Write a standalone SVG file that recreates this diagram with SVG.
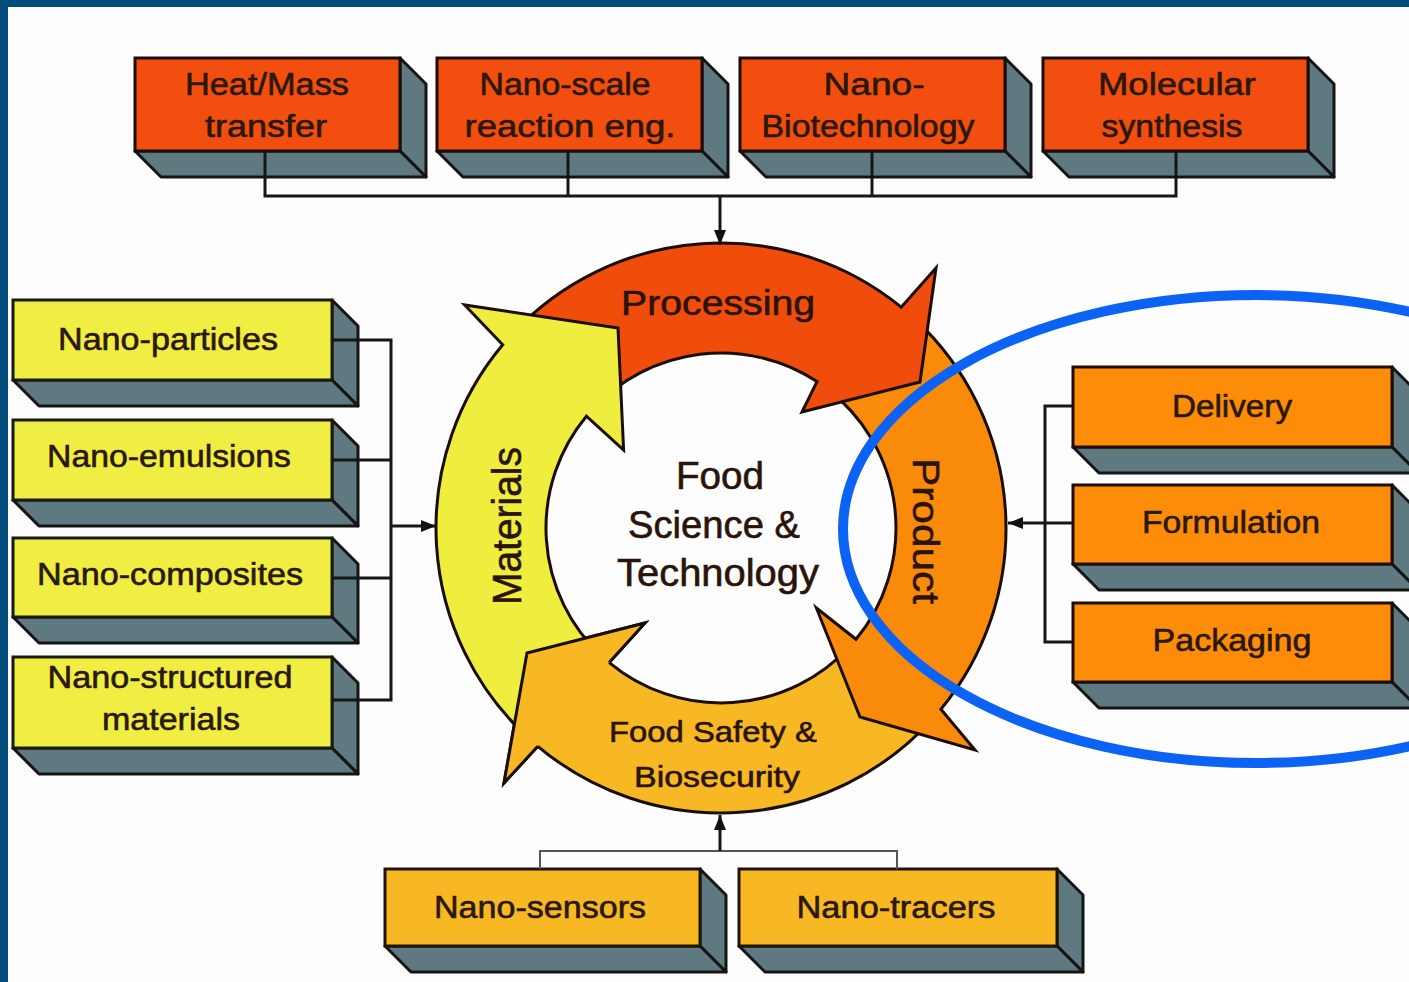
<svg xmlns="http://www.w3.org/2000/svg" width="1409" height="982" viewBox="0 0 1409 982">
<style>
.front-r{fill:#f24e10;stroke:#1a0d08;stroke-width:3}
.front-y{fill:#f0ee42;stroke:#1a1a08;stroke-width:3}
.front-o{fill:#fd8c08;stroke:#1f0d05;stroke-width:3}
.front-g{fill:#f7b824;stroke:#1f1405;stroke-width:3}
.face{fill:#5f7980;stroke:#141414;stroke-width:3;stroke-linejoin:round}
.lbl{font-family:"Liberation Sans",Arial,sans-serif;font-size:31px;fill:#2a180c;stroke:#2a180c;stroke-width:0.6;text-anchor:middle}
.big{font-family:"Liberation Sans",Arial,sans-serif;fill:#2a140a;stroke:#2a140a;stroke-width:0.6;text-anchor:middle}
.conn{stroke:#161616;stroke-width:3;fill:none}
.conn-thin{stroke:#555;stroke-width:2;fill:none}
.ring{stroke:#1a0d06;stroke-width:3;stroke-linejoin:miter}
</style>
<defs>
<marker id="ah" viewBox="0 0 10 10" refX="10" refY="5" markerWidth="15" markerHeight="15" markerUnits="userSpaceOnUse" orient="auto"><path d="M0,1 L10,5 L0,9 Z" fill="#111"/></marker>
</defs>
<rect x="0" y="0" width="1409" height="982" fill="#fdfdfd"/>

<!-- central cycle -->
<g id="cycle">
<path id="arrow-safety" class="ring" fill="#f7b824" d="M931.1,720.5 A285,285 0 0 1 537.8,746.3 L504,783 L527,653 L645,623 L609.2,662.6 A175,175 0 0 0 850,646.2 Z"/>
<path id="arrow-product" class="ring" fill="#fa8a0a" d="M915.4,319.6 A285,285 0 0 1 940.9,709.3 L975,750 L860,717 L816.4,608 L856,639.3 A175,175 0 0 0 826.3,388.2 Z"/>
<path id="arrow-processing" class="ring" fill="#f04c0c" d="M512.6,333.6 A285,285 0 0 1 901.2,307.2 L936,268 L920,382 L802,412 L817,381.6 A175,175 0 0 0 593,408.7 Z"/>
<path id="arrow-materials" class="ring" fill="#efed3e" d="M526.6,736.4 A285,285 0 0 1 502.7,344.8 L464.6,305 L618,328 L623.6,450 L586.4,416.2 A175,175 0 0 0 601.6,656 Z"/>
<path fill="#f7b824" d="M537.8,746.3 L504,783 L527,653 L645,623 L609.2,662.6 Z"/>
<path class="ring" fill="none" d="M537.8,746.3 L504,783 L527,653 L645,623 L609.2,662.6"/>
<text class="big" x="718" y="315" font-size="35" textLength="194" lengthAdjust="spacingAndGlyphs">Processing</text>
<text class="big" font-size="37" textLength="146" lengthAdjust="spacingAndGlyphs" transform="translate(913,531) rotate(90)">Product</text>
<text class="big" font-size="40" textLength="158" lengthAdjust="spacingAndGlyphs" transform="translate(521,526) rotate(-90)">Materials</text>
<text class="big" x="713" y="742" font-size="30" textLength="208" lengthAdjust="spacingAndGlyphs">Food Safety &amp;</text>
<text class="big" x="717" y="787" font-size="30" textLength="166" lengthAdjust="spacingAndGlyphs">Biosecurity</text>
</g>
<g id="center">
<text class="big" x="720" y="489" font-size="38" textLength="88" lengthAdjust="spacingAndGlyphs">Food</text>
<text class="big" x="714" y="538" font-size="38" textLength="172" lengthAdjust="spacingAndGlyphs">Science &amp;</text>
<text class="big" x="718" y="586" font-size="38" textLength="202" lengthAdjust="spacingAndGlyphs">Technology</text>
</g>

<!-- top boxes -->
<g id="box-heat">
<polygon class="face" points="400,58 426,84 426,177 400,151"/>
<polygon class="face" points="135,151 400,151 426,177 161,177"/>
<rect class="front-r" x="135" y="58" width="265" height="93"/>
<text class="lbl" x="267" y="95" textLength="164" lengthAdjust="spacingAndGlyphs">Heat/Mass</text>
<text class="lbl" x="266" y="137" textLength="122" lengthAdjust="spacingAndGlyphs">transfer</text>
</g>
<g id="box-reaction">
<polygon class="face" points="702,58 728,84 728,177 702,151"/>
<polygon class="face" points="437,151 702,151 728,177 463,177"/>
<rect class="front-r" x="437" y="58" width="265" height="93"/>
<text class="lbl" x="565" y="95" textLength="171" lengthAdjust="spacingAndGlyphs">Nano-scale</text>
<text class="lbl" x="570" y="137" textLength="211" lengthAdjust="spacingAndGlyphs">reaction eng.</text>
</g>
<g id="box-biotech">
<polygon class="face" points="1005,58 1031,84 1031,177 1005,151"/>
<polygon class="face" points="740,151 1005,151 1031,177 766,177"/>
<rect class="front-r" x="740" y="58" width="265" height="93"/>
<text class="lbl" x="874" y="95" textLength="101" lengthAdjust="spacingAndGlyphs">Nano-</text>
<text class="lbl" x="868" y="137" textLength="213" lengthAdjust="spacingAndGlyphs">Biotechnology</text>
</g>
<g id="box-molecular">
<polygon class="face" points="1308,58 1334,84 1334,177 1308,151"/>
<polygon class="face" points="1043,151 1308,151 1334,177 1069,177"/>
<rect class="front-r" x="1043" y="58" width="265" height="93"/>
<text class="lbl" x="1177" y="95" textLength="158" lengthAdjust="spacingAndGlyphs">Molecular</text>
<text class="lbl" x="1172" y="137" textLength="141" lengthAdjust="spacingAndGlyphs">synthesis</text>
</g>

<!-- left boxes -->
<g id="box-particles">
<polygon class="face" points="332,300 358,326 358,406 332,380"/>
<polygon class="face" points="13,380 332,380 358,406 39,406"/>
<rect class="front-y" x="13" y="300" width="319" height="80"/>
<text class="lbl" x="168" y="350" textLength="220" lengthAdjust="spacingAndGlyphs">Nano-particles</text>
</g>
<g id="box-emulsions">
<polygon class="face" points="332,420 358,446 358,526 332,500"/>
<polygon class="face" points="13,500 332,500 358,526 39,526"/>
<rect class="front-y" x="13" y="420" width="319" height="80"/>
<text class="lbl" x="169" y="467" textLength="244" lengthAdjust="spacingAndGlyphs">Nano-emulsions</text>
</g>
<g id="box-composites">
<polygon class="face" points="332,538 358,564 358,643 332,617"/>
<polygon class="face" points="13,617 332,617 358,643 39,643"/>
<rect class="front-y" x="13" y="538" width="319" height="79"/>
<text class="lbl" x="170" y="585" textLength="266" lengthAdjust="spacingAndGlyphs">Nano-composites</text>
</g>
<g id="box-structured">
<polygon class="face" points="332,657 358,683 358,774 332,748"/>
<polygon class="face" points="13,748 332,748 358,774 39,774"/>
<rect class="front-y" x="13" y="657" width="319" height="91"/>
<text class="lbl" x="170" y="688" textLength="245" lengthAdjust="spacingAndGlyphs">Nano-structured</text>
<text class="lbl" x="171" y="730" textLength="138" lengthAdjust="spacingAndGlyphs">materials</text>
</g>

<!-- right boxes -->
<g id="box-delivery">
<polygon class="face" points="1392,367 1418,393 1418,473 1392,447"/>
<polygon class="face" points="1073,447 1392,447 1418,473 1099,473"/>
<rect class="front-o" x="1073" y="367" width="319" height="80"/>
<text class="lbl" x="1232" y="417" textLength="120" lengthAdjust="spacingAndGlyphs">Delivery</text>
</g>
<g id="box-formulation">
<polygon class="face" points="1392,485 1418,511 1418,590 1392,564"/>
<polygon class="face" points="1073,564 1392,564 1418,590 1099,590"/>
<rect class="front-o" x="1073" y="485" width="319" height="79"/>
<text class="lbl" x="1231" y="533" textLength="178" lengthAdjust="spacingAndGlyphs">Formulation</text>
</g>
<g id="box-packaging">
<polygon class="face" points="1392,603 1418,629 1418,708 1392,682"/>
<polygon class="face" points="1073,682 1392,682 1418,708 1099,708"/>
<rect class="front-o" x="1073" y="603" width="319" height="79"/>
<text class="lbl" x="1232" y="651" textLength="159" lengthAdjust="spacingAndGlyphs">Packaging</text>
</g>

<!-- bottom boxes -->
<g id="box-sensors">
<polygon class="face" points="700,869 726,895 726,972 700,946"/>
<polygon class="face" points="385,946 700,946 726,972 411,972"/>
<rect class="front-g" x="385" y="869" width="315" height="77"/>
<text class="lbl" x="540" y="918" textLength="212" lengthAdjust="spacingAndGlyphs">Nano-sensors</text>
</g>
<g id="box-tracers">
<polygon class="face" points="1057,869 1083,895 1083,972 1057,946"/>
<polygon class="face" points="739,946 1057,946 1083,972 765,972"/>
<rect class="front-g" x="739" y="869" width="318" height="77"/>
<text class="lbl" x="896" y="918" textLength="199" lengthAdjust="spacingAndGlyphs">Nano-tracers</text>
</g>

<!-- connectors -->
<g id="connectors">
<path class="conn" d="M265,151 V196 M568,151 V196 M872,151 V196 M1176,151 V196 M263.5,196 H1177.5"/>
<path class="conn" d="M720,196 V245" marker-end="url(#ah)"/>
<path class="conn" d="M332,340 H391 M332,460 H391 M332,578 H391 M332,700 H391 M391,338.5 V701.5"/>
<path class="conn" d="M391,526 H436" marker-end="url(#ah)"/>
<path class="conn" d="M1073,406 H1045 M1073,523 H1045 M1073,642 H1045 M1045,404.5 V643.5"/>
<path class="conn" d="M1045,523 H1008" marker-end="url(#ah)"/>
<path class="conn-thin" d="M540,869 V851 H897 V869"/>
<path class="conn" d="M720,851 V815" marker-end="url(#ah)"/>
</g>

<!-- highlight ellipse -->
<ellipse id="highlight" cx="1256" cy="529" rx="413" ry="234" fill="none" stroke="#0b63f6" stroke-width="10"/>

<!-- frame -->
<rect x="0" y="0" width="1409" height="7" fill="#024d7b"/>
<rect x="0" y="0" width="8" height="982" fill="#024d7b"/>
</svg>
